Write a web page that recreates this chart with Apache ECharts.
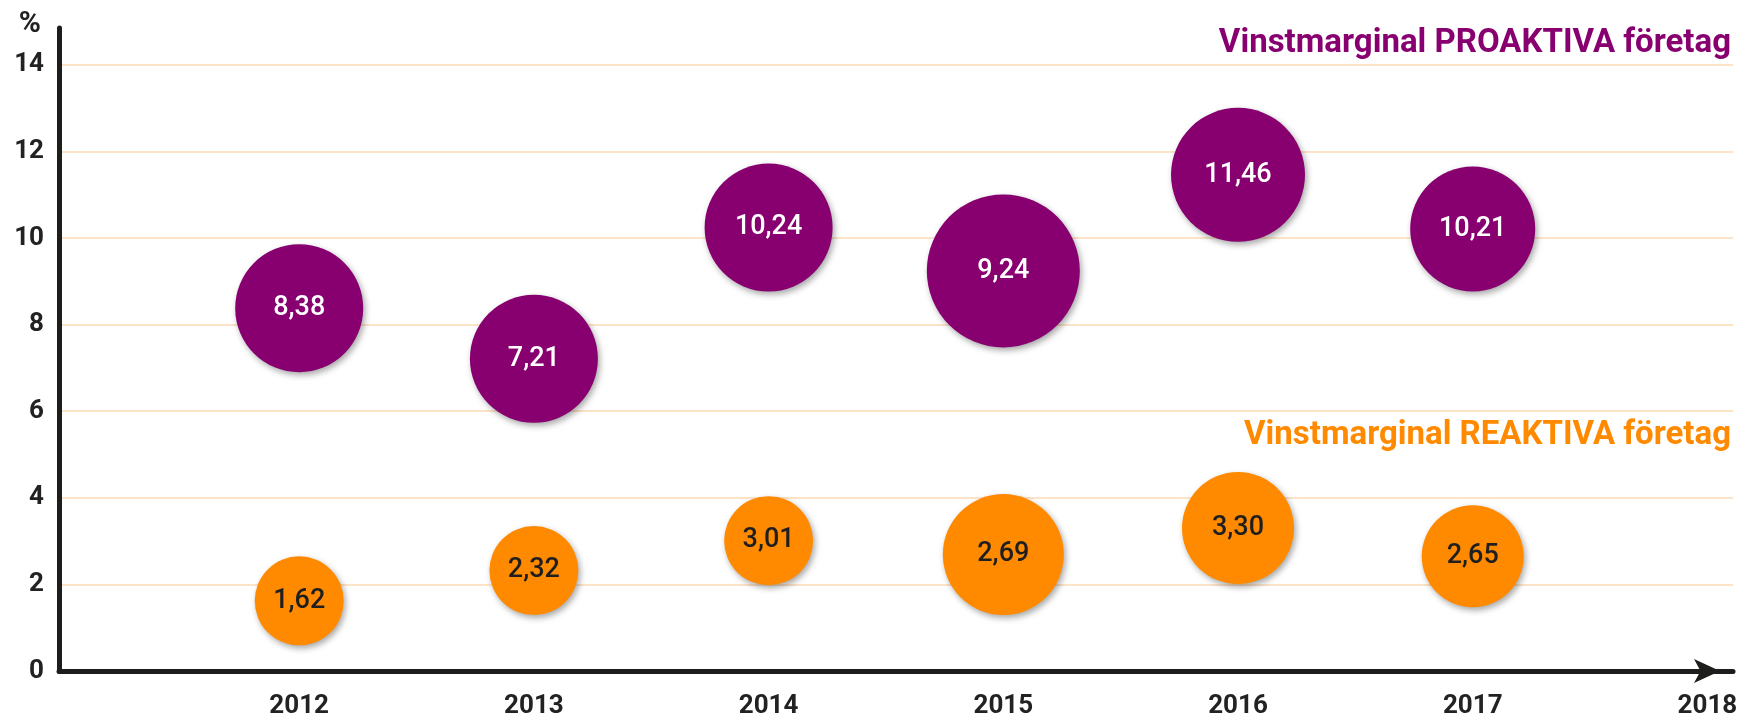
<!DOCTYPE html>
<html>
<head>
<meta charset="utf-8">
<title>Vinstmarginal</title>
<script src="https://cdn.jsdelivr.net/npm/echarts@6/dist/echarts.min.js"></script>
<style>
  html, body { margin: 0; padding: 0; background: #fff; }
  #chart { width: 1755px; height: 720px; }
</style>
</head>
<body>
<div id="chart"></div>
<script>
// år (x-axeln)
const years = [2012, 2013, 2014, 2015, 2016, 2017];
const yearLabels = [2012, 2013, 2014, 2015, 2016, 2017, 2018];
// vinstmarginal i %
const proaktiva = [8.38, 7.21, 10.24, 9.24, 11.46, 10.21];
const reaktiva = [1.62, 2.32, 3.01, 2.69, 3.30, 2.65];
// bubblornas relativa storlek
const proaktivaBubble = [1.28, 1.28, 1.28, 1.53, 1.34, 1.25];
const reaktivaBubble = [0.89, 0.89, 0.89, 1.21, 1.12, 1.02];

const PRO_NAME = 'Vinstmarginal PROAKTIVA företag';
const RE_NAME = 'Vinstmarginal REAKTIVA företag';
const PURPLE = '#880070';
const ORANGE = '#FF8A00';
const AXIS = '#1d1d1b';
const GRID = '#FDE3C8';
const FONT = 'Roboto, "Noto Sans", sans-serif';

// 8.38 -> "8,38"
function fmt(v) {
  return v.toFixed(2).replace('.', ',');
}

function bubbles(values, sizes) {
  return years.map((y, i) => [y, values[i], sizes[i]]);
}

const shadow = {
  shadowBlur: 6,
  shadowColor: 'rgba(0,0,0,0.35)',
  shadowOffsetX: 2,
  shadowOffsetY: 3
};

const legendBase = {
  icon: 'none',
  itemWidth: 0,
  itemHeight: 0,
  itemGap: 0,
  padding: 0,
  right: 24,
  selectedMode: false
};

const chart = echarts.init(document.getElementById('chart'));
chart.setOption({
  animation: false,
  backgroundColor: '#fff',
  textStyle: { fontFamily: FONT },
  legend: [
    Object.assign({}, legendBase, {
      data: [PRO_NAME],
      top: 27,
      textStyle: { color: PURPLE, fontSize: 33, fontWeight: 'bold', fontFamily: FONT }
    }),
    Object.assign({}, legendBase, {
      data: [RE_NAME],
      top: 419,
      textStyle: { color: ORANGE, fontSize: 33, fontWeight: 'bold', fontFamily: FONT }
    })
  ],
  grid: { left: 59, right: 22, top: 28, bottom: 49 },
  xAxis: {
    type: 'value',
    min: 2010.9766,
    max: 2018.109,
    axisLine: {
      show: true,
      symbol: ['none', 'arrow'],
      symbolSize: [18, 26],
      symbolOffset: [0, -13],
      lineStyle: { color: AXIS, width: 5 }
    },
    axisTick: { show: false },
    splitLine: { show: false },
    axisLabel: {
      customValues: yearLabels,
      margin: 22,
      fontSize: 26,
      fontWeight: 'bold',
      color: '#222',
      formatter: v => String(Math.round(v))
    }
  },
  yAxis: {
    type: 'value',
    min: 0,
    max: 14.85,
    interval: 2,
    name: '%',
    nameLocation: 'end',
    nameGap: 4,
    nameTextStyle: {
      align: 'right',
      verticalAlign: 'middle',
      padding: [0, 18, 0, 0],
      fontSize: 30,
      fontWeight: 'bold',
      color: '#222'
    },
    axisLine: { show: true, lineStyle: { color: AXIS, width: 5 } },
    axisTick: { show: false },
    splitLine: {
      show: true,
      showMinLine: false,
      showMaxLine: false,
      lineStyle: { color: GRID, width: 2 }
    },
    axisLabel: {
      showMaxLabel: false,
      margin: 15,
      fontSize: 26,
      fontWeight: 'bold',
      color: '#222'
    }
  },
  series: [
    {
      name: PRO_NAME,
      type: 'scatter',
      data: bubbles(proaktiva, proaktivaBubble),
      symbolSize: d => d[2] * 100,
      itemStyle: Object.assign({ color: PURPLE, opacity: 1 }, shadow),
      label: {
        show: true,
        position: 'inside',
        formatter: p => fmt(p.value[1]),
        color: '#fff',
        fontSize: 27,
        fontWeight: 500
      },
      emphasis: { disabled: true }
    },
    {
      name: RE_NAME,
      type: 'scatter',
      data: bubbles(reaktiva, reaktivaBubble),
      symbolSize: d => d[2] * 100,
      itemStyle: Object.assign({ color: ORANGE, opacity: 1 }, shadow),
      label: {
        show: true,
        position: 'inside',
        formatter: p => fmt(p.value[1]),
        color: '#1f1f1f',
        fontSize: 27,
        fontWeight: 500
      },
      emphasis: { disabled: true }
    }
  ]
});
</script>
</body>
</html>
